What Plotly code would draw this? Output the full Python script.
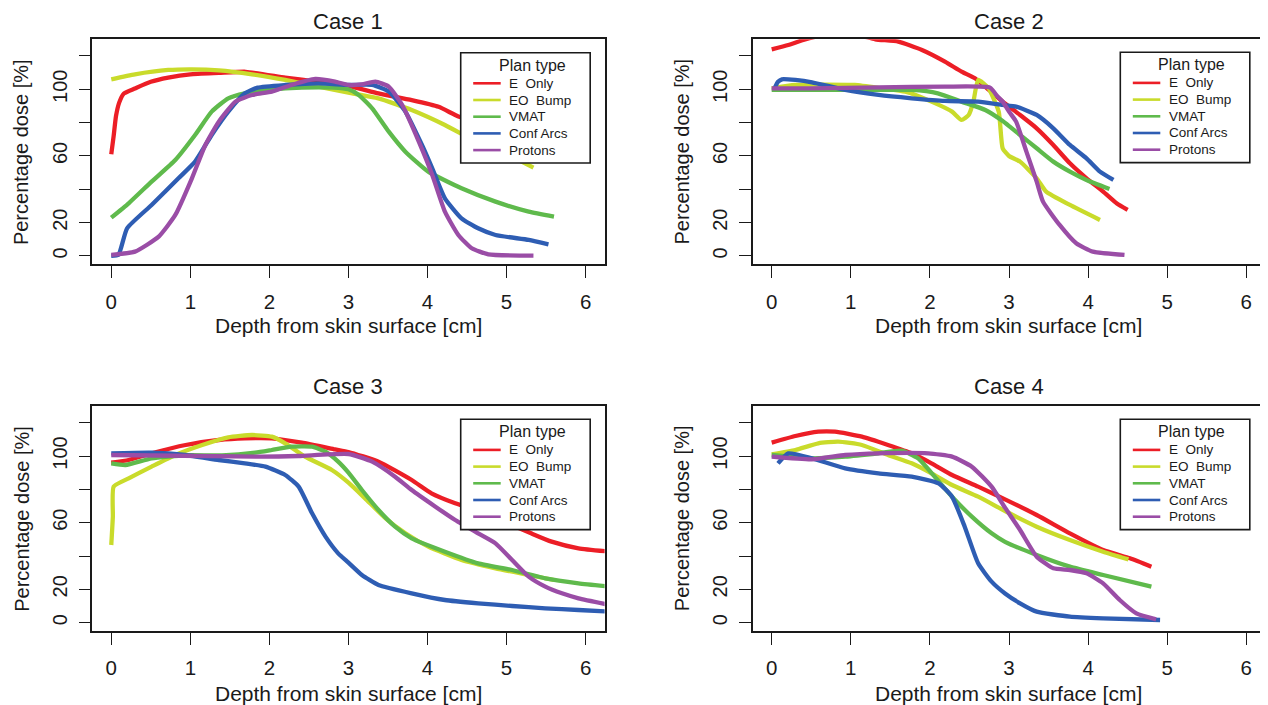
import plotly.graph_objects as go

# ---------------- data ----------------
series_names = ["E\u00a0 Only", "EO\u00a0 Bump", "VMAT", "Conf Arcs", "Protons"]
series_colors = ["#EC1E26", "#C9DB2B", "#5FBA4C", "#2E5DB3", "#9A4DA6"]
case_titles = ["Case 1", "Case 2", "Case 3", "Case 4"]
legend_title = "Plan type"
x_title = "Depth from skin surface [cm]"
y_title = "Percentage dose [%]"
x_ticks = [0, 1, 2, 3, 4, 5, 6]
y_ticks = [0, 20, 40, 60, 80, 100, 120]
y_tick_text = ["0", "20", "", "60", "", "100", ""]

# Case 1
c1_eonly_x = [0, 0.03, 0.06, 0.10, 0.16, 0.30, 0.50, 0.72, 1.00, 1.36, 1.70, 2.20, 2.62, 3.00, 3.38, 3.80, 4.14, 4.40, 4.80, 5.10]
c1_eonly_y = [61, 72, 84, 92, 97.5, 100.5, 104.5, 107, 109, 109.8, 110.5, 107, 104.5, 102, 97.5, 93.5, 89.5, 83.5, 78, 73]
c1_bump_x = [0, 0.30, 0.72, 1.02, 1.36, 1.78, 2.20, 2.62, 3.00, 3.38, 3.80, 4.22, 4.60, 5.00, 5.34]
c1_bump_y = [106, 109, 111.6, 112, 111.4, 109, 105.6, 101.6, 98, 94.6, 87.6, 78.6, 69, 61, 53]
c1_vmat_x = [0, 0.22, 0.51, 0.81, 1.06, 1.27, 1.48, 1.69, 1.99, 2.41, 2.80, 3.00, 3.13, 3.30, 3.51, 3.72, 4.01, 4.43, 4.86, 5.28, 5.60]
c1_vmat_y = [23, 31.6, 44.6, 57.6, 72.6, 86.6, 94.6, 97.6, 99.6, 101, 101, 100, 96.6, 88.6, 74.6, 62.6, 50.6, 40.6, 32.6, 26.6, 23.6]
c1_conf_x = [0, 0.09, 0.20, 0.51, 0.85, 1.06, 1.27, 1.48, 1.69, 1.85, 2.20, 2.62, 3.00, 3.30, 3.51, 3.72, 3.93, 4.06, 4.22, 4.43, 4.64, 4.86, 5.28, 5.53]
c1_conf_y = [0, 0.6, 16.6, 30.6, 46.6, 56.6, 72.6, 86.6, 97.6, 101, 102.6, 103.6, 102.6, 102.6, 98.6, 86.6, 66.6, 52.6, 34.6, 22.6, 16.6, 12.6, 9.6, 7]
c1_prot_x = [0, 0.30, 0.60, 0.81, 1.02, 1.19, 1.36, 1.57, 1.78, 2.03, 2.28, 2.58, 2.83, 3.00, 3.17, 3.34, 3.51, 3.68, 3.89, 4.06, 4.22, 4.39, 4.56, 4.77, 5.34]
c1_prot_y = [0.6, 2.6, 11.6, 24.6, 46.6, 66.6, 80.6, 92.6, 96.6, 98.6, 102.6, 106.2, 104.6, 102.6, 103, 104.6, 101.6, 90.6, 68.6, 48.6, 26.6, 12.6, 4.6, 1, 0.2]

# Case 2
c2_eonly_x = [0, 0.21, 0.40, 0.60, 0.85, 1.10, 1.31, 1.60, 1.90, 2.19, 2.40, 2.57, 2.75, 2.92, 3.14, 3.35, 3.56, 3.77, 3.98, 4.19, 4.36, 4.50]
c2_eonly_y = [124, 126.6, 129.6, 132, 133.5, 132.5, 130, 128.6, 123.6, 116.6, 110.6, 106.6, 99.5, 92.6, 84.6, 76.6, 66.6, 55.6, 46.6, 38.6, 31.6, 27.6]
c2_bump_x = [0, 0.30, 1.05, 1.40, 1.69, 2.02, 2.28, 2.40, 2.49, 2.55, 2.61, 2.74, 2.87, 2.92, 3.00, 3.14, 3.35, 3.47, 3.77, 4.15]
c2_bump_y = [100.6, 102.6, 102.6, 100.5, 98.6, 92.6, 86.6, 81.6, 84.6, 92.6, 105.6, 100.6, 86.6, 64.6, 60, 56.6, 46.6, 38.6, 30.6, 21.6]
c2_vmat_x = [0, 0.93, 1.77, 2.10, 2.40, 2.70, 2.92, 3.01, 3.14, 3.35, 3.56, 3.77, 3.98, 4.27]
c2_vmat_y = [99.6, 99.6, 99.6, 97.6, 92.6, 87.6, 81, 77.6, 72.6, 64.6, 56.6, 50.6, 45.6, 40.2]
c2_conf_x = [0.04, 0.08, 0.13, 0.30, 0.51, 0.93, 1.35, 1.77, 2.19, 2.61, 2.92, 3.09, 3.35, 3.56, 3.77, 3.98, 4.15, 4.32]
c2_conf_y = [101, 104.5, 106, 105.6, 104.2, 99.6, 96.6, 94.6, 93, 92.6, 90.6, 89.6, 84.6, 76.6, 66.6, 58.6, 50.6, 45.6]
c2_prot_x = [0, 0.50, 1.35, 2.19, 2.76, 2.85, 2.92, 3.01, 3.09, 3.22, 3.35, 3.43, 3.64, 3.85, 4.06, 4.46]
c2_prot_y = [100.6, 100.6, 101.2, 101.6, 101, 96, 92.6, 86, 80.6, 62.6, 44.6, 32.6, 18.6, 7.6, 2.6, 0.6]

# Case 3
c3_eonly_x = [0, 0.22, 0.51, 0.94, 1.36, 1.69, 2.03, 2.41, 2.83, 3.00, 3.38, 3.80, 4.05, 4.35, 4.70, 5.00, 5.31, 5.57, 5.91, 6.31]
c3_eonly_y = [96, 97.6, 101.6, 106.6, 109.6, 110.6, 110.6, 108, 104, 102.4, 96.6, 85.6, 77.6, 71.6, 66, 60, 53.6, 48.6, 44.6, 42.6]
c3_bump_x = [0, 0.02, 0.03, 0.22, 0.51, 0.81, 1.15, 1.48, 1.78, 2.03, 2.20, 2.45, 2.79, 3.00, 3.21, 3.47, 3.72, 4.01, 4.43, 4.86, 5.28, 5.60]
c3_bump_y = [46.6, 63.6, 81.6, 86.6, 93.6, 100.6, 106.6, 111.2, 112.6, 111.6, 107.6, 99.6, 91.6, 84, 74.6, 62.6, 53.6, 45.6, 37.6, 32.6, 28.6, 25.6]
c3_vmat_x = [0, 0.18, 0.51, 0.94, 1.40, 1.82, 2.03, 2.28, 2.54, 2.71, 2.87, 3.00, 3.17, 3.38, 3.59, 3.80, 4.22, 4.64, 5.07, 5.49, 5.91, 6.31]
c3_vmat_y = [95.6, 94.6, 98.6, 100.4, 100.4, 102, 103.6, 105.6, 105.6, 102.6, 96.6, 90, 79.6, 67.6, 57.6, 50.6, 42.6, 35.6, 31.6, 26.6, 23.6, 21.6]
c3_conf_x = [0, 0.51, 0.94, 1.36, 1.69, 1.95, 2.20, 2.37, 2.54, 2.71, 2.87, 3.00, 3.17, 3.38, 3.80, 4.22, 4.64, 5.07, 5.49, 5.91, 6.31]
c3_conf_y = [101.6, 102, 100.6, 97.6, 95.6, 93.6, 88.6, 81.6, 65.6, 51.6, 41.6, 36, 28.6, 22.6, 17.6, 13.6, 11.6, 10, 8.6, 7.6, 6.6]
c3_prot_x = [0, 1.90, 2.37, 3.00, 3.30, 3.59, 3.80, 4.10, 4.35, 4.64, 4.86, 5.07, 5.28, 5.49, 5.70, 5.91, 6.31]
c3_prot_y = [100.6, 99.6, 100, 101.2, 96.6, 87.6, 79.6, 69.6, 61.6, 53.6, 47.6, 37.6, 27.6, 21.6, 17.6, 14.6, 10.6]

# Case 4
c4_eonly_x = [0, 0.30, 0.59, 0.80, 1.14, 1.47, 1.77, 2.02, 2.28, 2.61, 2.95, 3.35, 3.77, 4.19, 4.53, 4.80]
c4_eonly_y = [108, 112, 114.6, 114.6, 111.6, 106.6, 101.6, 95.6, 88.6, 81.6, 74, 64.6, 53.6, 43.6, 38.6, 33.6]
c4_bump_x = [0, 0.30, 0.59, 0.84, 1.14, 1.47, 1.77, 2.02, 2.28, 2.61, 2.95, 3.35, 3.77, 4.19, 4.51]
c4_bump_y = [101, 103.6, 107.6, 108.6, 106.6, 100.6, 95.6, 89.6, 82.6, 75.6, 67, 57.6, 49.6, 42.6, 38]
c4_vmat_x = [0, 0.51, 0.93, 1.35, 1.64, 1.85, 2.06, 2.28, 2.53, 2.78, 2.95, 3.35, 3.77, 4.19, 4.80]
c4_vmat_y = [100.6, 98.6, 99.6, 101.6, 103.2, 98.6, 87.6, 75.6, 63.6, 53.6, 48.5, 40.6, 33.6, 28.6, 21.6]
c4_conf_x = [0.08, 0.21, 0.51, 0.93, 1.35, 1.77, 2.11, 2.28, 2.44, 2.61, 2.78, 2.95, 3.14, 3.35, 3.77, 4.19, 4.91]
c4_conf_y = [95.6, 101.6, 98.6, 92.6, 89.6, 87.6, 83.6, 75.6, 57.6, 35.6, 24.6, 17.5, 11.6, 6.6, 3.6, 2.6, 1.6]
c4_prot_x = [0, 0.51, 0.93, 1.35, 1.98, 2.28, 2.53, 2.78, 2.95, 3.14, 3.35, 3.56, 3.77, 3.98, 4.19, 4.40, 4.61, 4.86]
c4_prot_y = [99.6, 98, 100.6, 101.6, 101.6, 99.6, 93.6, 81.6, 69, 55.6, 39.6, 32.6, 31.6, 29.6, 23.6, 13.6, 5.6, 2]

cases = [
    [(c1_eonly_x, c1_eonly_y), (c1_bump_x, c1_bump_y), (c1_vmat_x, c1_vmat_y), (c1_conf_x, c1_conf_y), (c1_prot_x, c1_prot_y)],
    [(c2_eonly_x, c2_eonly_y), (c2_bump_x, c2_bump_y), (c2_vmat_x, c2_vmat_y), (c2_conf_x, c2_conf_y), (c2_prot_x, c2_prot_y)],
    [(c3_eonly_x, c3_eonly_y), (c3_bump_x, c3_bump_y), (c3_vmat_x, c3_vmat_y), (c3_conf_x, c3_conf_y), (c3_prot_x, c3_prot_y)],
    [(c4_eonly_x, c4_eonly_y), (c4_bump_x, c4_bump_y), (c4_vmat_x, c4_vmat_y), (c4_conf_x, c4_conf_y), (c4_prot_x, c4_prot_y)],
]

# ---------------- layout geometry (page pixels -> paper) ----------------
# The page body has an 8px margin, so the figure is made 8px smaller and
# every page-pixel position is shifted by that offset.
OFF = 8
W, H = 1268 - OFF, 705 - OFF
FONT = "Liberation Sans, Arial, Helvetica, sans-serif"
INK = "#1a1a1a"


def px(x):
    return (x - OFF) / W


def py(y):
    return 1 - (y - OFF) / H


box_x = [(92.3, 604.6), (752.7, 1265.3), (92.3, 604.6), (752.7, 1265.3)]
box_y = [(39.3, 264.3), (39.3, 264.3), (406.0, 631.0), (406.0, 631.0)]
title_y = [21.0, 21.0, 387.0, 387.0]
xlabel_y = [325.0, 325.0, 693.0, 693.0]
legend_left = [460.7, 1120.3, 460.7, 1120.3]
legend_top = [52.7, 52.3, 419.3, 419.3]
LEG_W, LEG_H = 129.5, 110.3

fig = go.Figure()
annotations = []
shapes = []

for i in range(4):
    k = "" if i == 0 else str(i + 1)
    xa, ya = "x" + k, "y" + k
    for j, (xs, ys) in enumerate(cases[i]):
        fig.add_trace(go.Scatter(
            x=xs, y=ys, mode="lines", name=series_names[j],
            line=dict(color=series_colors[j], width=4.3, shape="spline", smoothing=0.5),
            xaxis=xa, yaxis=ya, showlegend=False, hoverinfo="skip",
        ))
    x0, x1 = box_x[i]
    y0, y1 = box_y[i]
    fig.update_layout(**{
        "xaxis" + k: dict(
            domain=[px(x0), px(x1)], anchor=ya, range=[-0.24, 6.24],
            tickmode="array", tickvals=x_ticks, ticks="outside", ticklen=12,
            tickwidth=1.4, tickcolor=INK, showline=True, linecolor=INK,
            linewidth=1.6, mirror=True, showgrid=False, zeroline=False,
            tickfont=dict(size=20.5, family=FONT, color=INK), ticklabelstandoff=6,
            fixedrange=True,
        ),
        "yaxis" + k: dict(
            domain=[py(y1), py(y0)], anchor=xa, range=[-5, 130],
            tickmode="array", tickvals=y_ticks, ticktext=y_tick_text,
            tickangle=-90, ticks="outside", ticklen=12, tickwidth=1.4,
            tickcolor=INK, showline=True, linecolor=INK, linewidth=1.6,
            mirror=True, showgrid=False, zeroline=False,
            tickfont=dict(size=20, family=FONT, color=INK), ticklabelstandoff=4,
            fixedrange=True,
        ),
    })

    cx = (x0 + x1) / 2
    annotations.append(dict(
        text=case_titles[i], x=px(cx), y=py(title_y[i]),
        xref="paper", yref="paper", showarrow=False,
        xanchor="center", yanchor="middle",
        font=dict(size=22, family=FONT, color=INK)))
    annotations.append(dict(
        text=x_title, x=px(cx), y=py(xlabel_y[i]),
        xref="paper", yref="paper", showarrow=False,
        xanchor="center", yanchor="middle",
        font=dict(size=21, family=FONT, color=INK)))
    annotations.append(dict(
        text=y_title, x=px(x0 - 71.0), y=py((y0 + y1) / 2),
        xref="paper", yref="paper", showarrow=False, textangle=-90,
        xanchor="center", yanchor="middle",
        font=dict(size=20, family=FONT, color=INK)))

    # legend box in the style of the original (R base graphics legend)
    lx, ly = legend_left[i], legend_top[i]
    shapes.append(dict(
        type="rect", xref="paper", yref="paper", layer="above",
        x0=px(lx), x1=px(lx + LEG_W), y0=py(ly + LEG_H), y1=py(ly),
        fillcolor="white", line=dict(color=INK, width=1.6)))
    annotations.append(dict(
        text=legend_title, x=px(lx + 71.4), y=py(ly + 12.6),
        xref="paper", yref="paper", showarrow=False,
        xanchor="center", yanchor="middle",
        font=dict(size=16, family=FONT, color=INK)))
    for j in range(5):
        ey = ly + 30.6 + 16.7 * j
        shapes.append(dict(
            type="line", xref="paper", yref="paper", layer="above",
            x0=px(lx + 12.5), x1=px(lx + 40.0), y0=py(ey), y1=py(ey),
            line=dict(color=series_colors[j], width=2.6)))
        annotations.append(dict(
            text=series_names[j], x=px(lx + 46.3), y=py(ey),
            xref="paper", yref="paper", showarrow=False,
            xanchor="left", yanchor="middle",
            font=dict(size=13.5, family=FONT, color=INK)))

fig.update_layout(
    width=W, height=H,
    margin=dict(l=0, r=0, t=0, b=0),
    paper_bgcolor="white", plot_bgcolor="white",
    font=dict(family=FONT, color=INK),
    showlegend=False,
    annotations=annotations,
    shapes=shapes,
)
fig.write_html("out.html")
